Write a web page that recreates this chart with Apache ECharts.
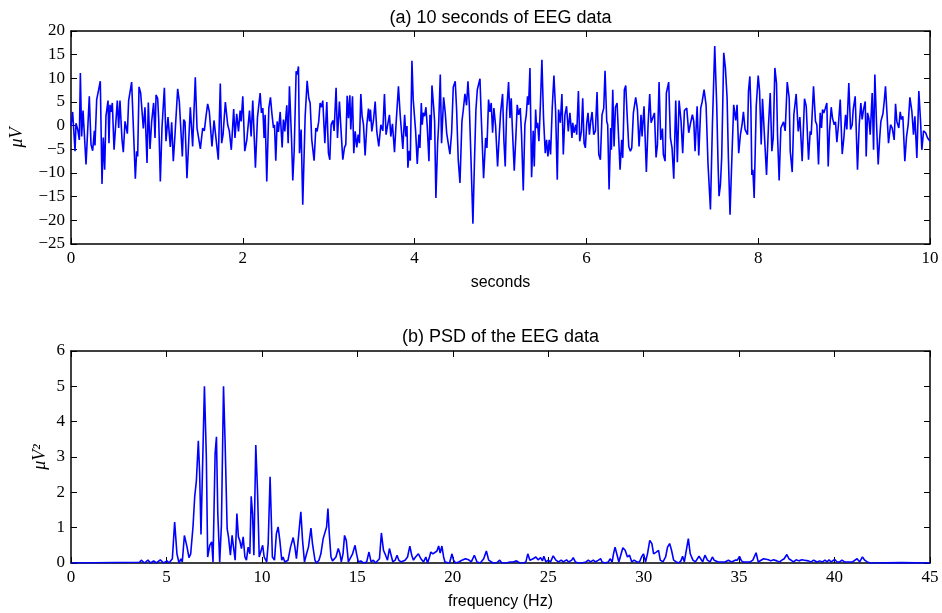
<!DOCTYPE html>
<html><head><meta charset="utf-8">
<script src="https://cdn.jsdelivr.net/npm/echarts@6/dist/echarts.min.js"></script>
<style>html,body{margin:0;padding:0;background:#fff}#c{width:942px;height:613px}</style>
</head><body><div id="c"></div>
<script>
// EEG samples [seconds, µV] (local peaks/troughs)
const eeg0to2 = [[0,-0.1],[0.019,2.9],[0.047,-5.4],[0.058,0.5],[0.078,-0.8],[0.097,-3.0],[0.109,11.1],[0.124,-2.3],[0.140,3.2],[0.175,-8.2],[0.213,6.2],[0.233,-4.0],[0.252,-5.3],[0.272,-1.1],[0.279,-4.2],[0.299,5.5],[0.322,7.6],[0.341,9.4],[0.361,-12.3],[0.376,-2.5],[0.392,-9.3],[0.407,2.0],[0.431,5.3],[0.442,-3.7],[0.454,4.4],[0.466,2.9],[0.481,4.8],[0.501,-5.1],[0.524,-5.4],[0.539,5.3],[0.555,-0.5],[0.570,5.3],[0.594,-3.0],[0.609,-5.6],[0.629,0.9],[0.648,0.6],[0.656,-1.7],[0.671,5.3],[0.706,9.2],[0.749,-11.2],[0.764,-5.4],[0.776,-6.5],[0.792,8.2],[0.811,6.9],[0.842,-0.6],[0.861,3.9],[0.885,-7.9],[0.900,4.9],[0.920,-4.9],[0.939,0.9],[0.962,4.8],[0.978,-2.6],[0.990,6.5],[1.009,5.7],[1.021,1.3],[1.040,-11.8],[1.059,-0.5],[1.087,8.0],[1.106,-3.3],[1.129,1.8],[1.156,-4.5],[1.172,0.7],[1.191,-7.5],[1.211,-1.8],[1.226,2.9],[1.242,7.8],[1.261,5.1],[1.296,-6.5],[1.312,1.3],[1.327,0.8],[1.350,-11.1],[1.389,3.9],[1.416,-4.4],[1.447,10.2],[1.467,-0.5],[1.506,-4.9],[1.533,-0.5],[1.552,-1.1],[1.572,2.0],[1.591,4.6],[1.610,3.0],[1.641,-4.4],[1.665,1.1],[1.715,-7.2],[1.738,8.9],[1.754,-3.7],[1.770,-1.9],[1.797,5.0],[1.824,0.2],[1.843,-1.1],[1.866,-5.1],[1.894,3.5],[1.909,-2.6],[1.929,2.5],[1.950,-1.2],[1.969,3.2],[1.981,0.9]];
const eeg2to4 = [[2.000,6.2],[2.023,-5.4],[2.047,-3.0],[2.078,3.2],[2.097,-2.3],[2.116,5.3],[2.147,-8.9],[2.171,1.8],[2.202,6.9],[2.217,2.7],[2.233,3.7],[2.248,-2.6],[2.260,2.3],[2.279,-11.8],[2.303,3.7],[2.322,6.0],[2.338,2.7],[2.357,-0.5],[2.369,0.2],[2.384,-7.4],[2.400,0.9],[2.415,-1.3],[2.435,2.9],[2.458,-4.6],[2.473,1.3],[2.489,-1.2],[2.512,4.3],[2.528,-3.7],[2.543,8.3],[2.567,-2.6],[2.582,-11.6],[2.598,-5.4],[2.621,11.5],[2.633,10.8],[2.648,12.5],[2.660,-5.8],[2.679,-0.8],[2.698,-16.7],[2.726,2.0],[2.749,9.5],[2.768,5.8],[2.784,4.8],[2.803,-3.0],[2.830,-7.4],[2.850,-0.5],[2.865,-1.2],[2.884,0.9],[2.900,4.8],[2.916,3.9],[2.931,5.3],[2.955,-3.7],[2.978,5.0],[2.997,-5.8],[3.013,-7.2],[3.028,0.2],[3.048,1.1],[3.063,-1.1],[3.086,8.0],[3.102,-2.6],[3.125,5.1],[3.144,-1.1],[3.164,-7.2],[3.184,-4.6],[3.199,-4.0],[3.215,6.3],[3.230,1.6],[3.246,6.4],[3.257,-0.8],[3.277,6.2],[3.292,-5.8],[3.308,-1.2],[3.327,-4.6],[3.343,-1.9],[3.358,-3.7],[3.374,6.7],[3.389,2.0],[3.405,0.2],[3.424,-6.3],[3.444,0.2],[3.463,3.6],[3.475,0.9],[3.486,3.4],[3.502,-1.2],[3.521,1.1],[3.541,5.1],[3.560,-1.2],[3.583,-4.4],[3.607,0.2],[3.630,-1.1],[3.649,6.7],[3.668,-1.9],[3.684,-0.1],[3.707,2.3],[3.723,-2.3],[3.742,0.4],[3.766,-5.6],[3.785,0.6],[3.812,8.3],[3.832,2.3],[3.847,2.3],[3.863,-4.9],[3.884,2.3],[3.899,-2.3],[3.911,-0.1],[3.922,-8.9],[3.938,-5.3],[3.950,-7.4],[3.969,13.7],[3.984,5.5]];
const eeg4to6 = [[4.000,5.1],[4.012,-1.2],[4.031,-8.1],[4.050,-1.9],[4.062,-4.7],[4.078,4.8],[4.089,0.2],[4.101,2.7],[4.116,2.0],[4.132,3.9],[4.147,-0.1],[4.167,-7.5],[4.179,2.3],[4.190,-3.0],[4.202,8.5],[4.221,4.1],[4.233,0.9],[4.248,-15.3],[4.268,-3.7],[4.280,0.2],[4.299,10.8],[4.314,-3.7],[4.338,6.0],[4.357,2.7],[4.373,-1.5],[4.388,-1.3],[4.411,-6.0],[4.431,-1.5],[4.450,8.1],[4.473,9.4],[4.489,3.4],[4.508,-7.2],[4.528,-12.1],[4.551,0.9],[4.566,3.2],[4.586,6.7],[4.605,4.3],[4.621,9.4],[4.636,4.8],[4.656,-6.8],[4.679,-20.7],[4.698,-6.8],[4.714,3.4],[4.730,7.6],[4.745,7.3],[4.761,9.9],[4.776,1.8],[4.803,-11.1],[4.827,-2.6],[4.842,-4.7],[4.861,5.5],[4.877,2.9],[4.892,4.8],[4.908,-1.5],[4.923,3.7],[4.943,-0.1],[4.966,-8.6],[4.986,-1.9],[5.001,2.7],[5.024,6.7],[5.040,-3.3],[5.055,-8.6],[5.071,2.9],[5.094,9.2],[5.110,1.6],[5.125,5.8],[5.137,-0.1],[5.160,-9.5],[5.180,-1.9],[5.195,4.4],[5.211,2.3],[5.230,3.7],[5.245,-1.9],[5.265,-13.7],[5.284,0.2],[5.300,2.3],[5.315,6.2],[5.327,4.4],[5.343,12.2],[5.362,-10.9],[5.381,-1.1],[5.393,-8.6],[5.409,3.4],[5.420,-0.5],[5.432,0.6],[5.447,-3.3],[5.463,3.7],[5.482,13.9],[5.501,1.6],[5.521,-5.8],[5.536,-3.0],[5.552,-6.5],[5.567,-3.0],[5.583,-6.1],[5.602,3.7],[5.622,10.6],[5.641,3.4],[5.661,-11.4],[5.676,3.4],[5.696,0.6],[5.715,6.7],[5.731,-6.1],[5.750,2.3],[5.769,4.1],[5.789,-1.2],[5.808,2.7],[5.832,-2.6],[5.841,0.6],[5.856,-1.5],[5.876,0.2],[5.887,-1.9],[5.907,7.3],[5.922,-3.3],[5.942,-1.2],[5.957,5.8],[5.973,-3.7],[5.988,-4.7]];
const eeg6to8 = [[6.004,0.6],[6.019,2.7],[6.035,-1.9],[6.050,0.9],[6.066,2.9],[6.085,-1.9],[6.105,-1.1],[6.124,7.1],[6.144,-6.1],[6.163,-7.2],[6.182,2.3],[6.202,3.7],[6.217,11.6],[6.237,0.9],[6.248,0.2],[6.264,-13.5],[6.283,-0.5],[6.291,-5.1],[6.307,7.6],[6.322,-4.4],[6.338,3.9],[6.357,4.8],[6.373,5.0],[6.392,-9.3],[6.411,-3.0],[6.423,-6.8],[6.442,7.6],[6.458,8.5],[6.477,1.3],[6.493,-4.4],[6.512,-5.4],[6.528,-4.7],[6.547,2.7],[6.574,6.0],[6.594,3.4],[6.613,-4.4],[6.636,2.3],[6.648,-2.3],[6.671,4.1],[6.698,-9.8],[6.718,0.2],[6.737,6.7],[6.753,0.6],[6.772,0.9],[6.792,2.7],[6.811,-6.7],[6.827,-4.0],[6.846,9.2],[6.865,-3.0],[6.885,-0.6],[6.896,-6.1],[6.916,-7.5],[6.931,6.9],[6.958,9.2],[6.978,-2.6],[6.997,-4.7],[7.017,-11.2],[7.040,5.3],[7.059,-7.7],[7.079,5.3],[7.102,0.9],[7.121,-5.8],[7.141,3.2],[7.168,3.7],[7.191,-1.5],[7.211,0.4],[7.234,2.3],[7.250,0.9],[7.265,-5.4],[7.289,4.1],[7.308,-6.3],[7.331,3.7],[7.347,5.0],[7.370,7.6],[7.393,4.4],[7.416,-8.2],[7.444,-17.7],[7.467,0.2],[7.494,16.8],[7.517,4.4],[7.533,-8.2],[7.544,-14.9],[7.560,-12.5],[7.575,-6.8],[7.599,15.4],[7.618,12.2],[7.638,5.8],[7.653,-6.8],[7.672,-18.8],[7.696,-5.4],[7.715,4.4],[7.738,1.1],[7.754,4.4],[7.773,-5.8],[7.793,-1.9],[7.812,0.2],[7.828,2.9],[7.847,-0.8],[7.866,-1.2],[7.876,-1.9],[7.887,7.3],[7.903,10.4],[7.915,3.7],[7.926,-10.4],[7.938,-9.3],[7.953,-15.3],[7.977,4.1]];
const eeg8to10 = [[8.000,10.6],[8.016,7.3],[8.035,-4.0],[8.050,5.7],[8.066,0.2],[8.081,0.6],[8.097,-10.4],[8.120,0.2],[8.140,6.9],[8.159,-5.4],[8.175,-2.6],[8.194,12.2],[8.213,9.0],[8.225,-1.9],[8.244,-11.6],[8.264,-0.5],[8.279,-0.1],[8.295,0.8],[8.314,-1.1],[8.338,9.2],[8.361,5.8],[8.373,-5.4],[8.396,-9.8],[8.415,2.3],[8.442,6.7],[8.466,-1.2],[8.485,1.8],[8.512,-7.5],[8.539,5.7],[8.559,4.1],[8.586,-7.2],[8.605,-1.2],[8.617,-1.9],[8.644,8.3],[8.667,0.9],[8.683,0.2],[8.702,-8.2],[8.722,2.7],[8.737,-0.5],[8.749,3.4],[8.764,2.7],[8.780,3.6],[8.799,4.8],[8.815,-8.6],[8.830,-1.2],[8.850,3.9],[8.865,1.6],[8.885,0.2],[8.900,0.8],[8.916,-3.5],[8.931,-0.5],[8.955,5.5],[8.978,-6.0],[8.997,-2.6],[9.017,2.3],[9.032,-0.8],[9.055,9.0],[9.075,-0.8],[9.094,0.2],[9.106,3.4],[9.129,6.2],[9.156,-9.3],[9.176,0.2],[9.195,4.8],[9.210,1.3],[9.226,3.4],[9.246,5.1],[9.257,-6.5],[9.273,2.7],[9.288,1.6],[9.304,-1.9],[9.327,6.9],[9.343,-5.1],[9.358,10.8],[9.378,0.2],[9.397,-8.2],[9.413,-3.0],[9.428,0.9],[9.452,2.5],[9.467,5.1],[9.482,8.3],[9.502,1.6],[9.517,-3.7],[9.541,0.2],[9.560,-0.5],[9.583,-3.0],[9.599,4.6],[9.614,0.9],[9.637,-0.5],[9.653,2.9],[9.668,1.3],[9.684,2.0],[9.707,-7.5],[9.727,-2.3],[9.746,0.2],[9.766,6.0],[9.789,3.0],[9.808,-1.9],[9.824,2.0],[9.847,-6.8],[9.870,7.3],[9.890,0.9],[9.905,-5.1],[9.925,-1.1],[9.949,-1.5],[9.972,-2.6],[10.0,-3.3]];

// PSD [Hz, µV²]
const psdLow = [[0,0],[3.59,0.02],[3.68,0.08],[3.85,0],[4.03,0.08],[4.17,0],[4.33,0.06],[4.47,0],[4.68,0.09],[4.85,0],[5.03,0.06],[5.13,0],[5.31,0.12],[5.43,1.16],[5.55,0.26],[5.66,0],[5.76,0.12],[5.83,0.03],[5.94,0.78],[6.08,0.45],[6.18,0.15],[6.27,0.26],[6.39,1.02],[6.48,1.87],[6.57,2.34],[6.67,3.46],[6.74,2.53],[6.81,0.81],[6.88,0.83],[6.99,5.0],[7.09,3.0],[7.16,0.17],[7.27,0.5],[7.37,0.6],[7.44,0.03],[7.55,3.1],[7.62,3.57],[7.69,1.4],[7.79,0.03],[7.88,1.07],[7.99,5.0],[8.07,3.48],[8.18,0.97],[8.25,0.74],[8.35,0.22],[8.44,0.78],[8.49,0.55],[8.60,0.08],[8.69,1.4],[8.77,0.74],[8.84,0.64],[8.93,0.41],[9.02,0.74],[9.11,0.17],[9.19,0.08],[9.28,0.45],[9.37,0.26],[9.44,1.89],[9.51,1.4],[9.58,0.22],[9.68,3.34],[9.77,2.06],[9.86,0.17],[9.96,0.22],[10.04,0.5],[10.12,0.17],[10.25,0.03],[10.33,0.55],[10.43,2.44]];
const psdMid = [[10.55,0.17],[10.66,0.08],[10.76,0.83],[10.85,1.02],[10.94,0.64],[11.04,0.08],[11.11,0.17],[11.20,0.03],[11.29,0],[11.37,0.08],[11.50,0.45],[11.64,0.72],[11.73,0.45],[11.81,0.12],[11.90,0.64],[12.04,1.45],[12.13,0.64],[12.23,0.03],[12.34,0.26],[12.44,0.45],[12.57,0.99],[12.65,0.55],[12.78,0.08],[12.86,0],[12.99,0.08],[13.09,0.26],[13.21,0.69],[13.30,0.69],[13.39,1.02],[13.46,1.54],[13.53,0.83],[13.62,0.17],[13.70,0.06],[13.77,0.08],[13.88,0.17],[14.00,0.41],[14.09,0.26],[14.16,0.03],[14.25,0.26],[14.33,0.78],[14.42,0.64],[14.53,0.03],[14.61,0.08],[14.75,0.26],[14.88,0.5],[14.96,0.26],[15.05,0.03],[15.18,0.06],[15.32,0],[15.49,0.03],[15.61,0.31],[15.72,0.03],[15.84,0.08],[15.95,0],[16.05,0.03],[16.16,0.12],[16.26,0.85],[16.37,0.36],[16.45,0.26],[16.58,0.08],[16.68,0.41],[16.77,0.22],[16.86,0.03],[16.98,0.08],[17.08,0.22],[17.17,0.08],[17.28,0.03],[17.38,0],[17.50,0.08],[17.63,0.17],[17.75,0.48],[17.85,0.22],[17.94,0.08],[18.05,0.17],[18.20,0.26],[18.33,0.12],[18.40,0.17],[18.47,0.03],[18.59,0.17],[18.68,0],[18.78,0.17],[18.85,0.31],[18.96,0.26],[19.06,0.26],[19.17,0.34],[19.26,0.48],[19.34,0.28],[19.43,0.48],[19.52,0.17],[19.59,0.03],[19.69,0],[19.83,0],[19.96,0.26],[20.04,0.08],[20.15,0],[20.31,0.03],[20.48,0.08],[20.66,0.12],[20.83,0.09],[20.97,0.03],[21.13,0.22],[21.27,0.03],[21.44,0],[21.62,0.12],[21.76,0.34],[21.88,0.08],[21.97,0.03]];
const psdHigh = [[22.11,0],[22.29,0],[22.46,0.08],[22.57,0],[22.81,0],[22.99,0.03],[23.16,0.03],[23.34,0.06],[23.51,0],[23.69,0],[23.83,0.03],[23.93,0.26],[24.04,0.08],[24.21,0.12],[24.35,0.17],[24.47,0.09],[24.60,0.15],[24.70,0.06],[24.77,0.19],[24.88,0.03],[25.00,0.08],[25.12,0.03],[25.26,0.2],[25.40,0.08],[25.54,0.03],[25.68,0.08],[25.79,0.03],[25.96,0.09],[26.07,0.03],[26.23,0.08],[26.31,0.15],[26.42,0.03],[26.58,0],[26.75,0],[26.98,0.03],[27.10,0.08],[27.22,0.03],[27.36,0.08],[27.47,0.03],[27.63,0.08],[27.75,0.12],[27.82,0.03],[27.98,0],[28.15,0.03],[28.24,0.12],[28.35,0.03],[28.42,0.26],[28.50,0.45],[28.59,0.26],[28.70,0.03],[28.78,0.08],[28.91,0.43],[29.03,0.36],[29.15,0.17],[29.26,0.22],[29.38,0.03],[29.50,0.08],[29.64,0.03],[29.78,0.03],[29.89,0.17],[29.99,0.26],[30.10,0.03],[30.20,0.26],[30.32,0.64],[30.43,0.55],[30.52,0.26],[30.66,0.31],[30.78,0.36],[30.87,0.08],[31.01,0.03],[31.15,0.17],[31.25,0.45],[31.36,0.55],[31.46,0.36],[31.57,0.08],[31.71,0.03],[31.83,0],[31.95,0.06],[32.04,0.19],[32.13,0.03],[32.23,0.08],[32.34,0.69],[32.44,0.26],[32.58,0.08],[32.71,0.03],[32.79,0.08],[32.90,0.19],[33.09,0.03],[33.21,0.22],[33.34,0.08],[33.48,0.03],[33.60,0.17],[33.69,0.08],[33.79,0.12],[33.91,0.03],[34.09,0.03],[34.26,0.03],[34.44,0.08],[34.61,0.03],[34.79,0.08],[34.91,0.08],[35.02,0.19],[35.12,0.06],[35.23,0.03],[35.40,0.03],[35.58,0.03],[35.72,0.08],[35.81,0.09],[35.89,0.29],[36.00,0.03],[36.10,0.03],[36.28,0.12],[36.38,0.17],[36.54,0.09],[36.66,0.06],[36.80,0.09],[36.98,0.06],[37.12,0.03],[37.24,0.08],[37.36,0.12],[37.50,0.24],[37.61,0.12],[37.71,0.08],[37.85,0.03],[37.99,0.09],[38.13,0.06],[38.29,0.09],[38.42,0.08],[38.52,0.12],[38.63,0.06],[38.77,0.03],[38.91,0.08],[39.08,0.03],[39.22,0.06],[39.36,0.03],[39.50,0.08],[39.61,0.03],[39.71,0.09],[39.82,0.03],[39.92,0.06],[40.01,0.10],[40.13,0.03],[40.27,0.03],[40.39,0.08],[40.52,0.03],[40.66,0.03],[40.80,0.03],[40.94,0.03],[41.04,0.08],[41.18,0.12],[41.32,0.03],[41.46,0.17],[41.58,0.08],[41.71,0.03],[41.88,0],[43.5,0.01],[45,0]];

const topXTicks = {min: 0, max: 10, step: 2};
const topYTicks = {min: -25, max: 20, step: 5};
const botXTicks = {min: 0, max: 45, step: 5};
const botYTicks = {min: 0, max: 6, step: 1};

const titleA = '(a) 10 seconds of EEG data';
const titleB = '(b) PSD of the EEG data';
const xNameA = 'seconds';
const xNameB = 'frequency (Hz)';
const yNameA = 'μV';
const yNameB = 'μV²';

const eegData = [].concat(eeg0to2, eeg2to4, eeg4to6, eeg6to8, eeg8to10);
const psdData = [].concat(psdLow, psdMid, psdHigh);

const SERIF = '"Liberation Serif", "DejaVu Serif", serif';
const SANS = '"Liberation Sans", Arial, sans-serif';
const fmt = v => (v < 0 ? '\u2212' + Math.abs(v) : String(v));

function axis(grid, t, opts) {
  const showLabel = opts.label !== false;
  return Object.assign({
    type: 'value', gridIndex: grid, min: t.min, max: t.max, interval: t.step,
    nameMoveOverlap: false,
    axisLine: {show: true, onZero: false, lineStyle: {color: '#000', width: 1.5}},
    axisTick: {show: true, inside: true, length: 6, lineStyle: {color: '#000', width: 1}},
    axisLabel: {show: showLabel, color: '#000', fontFamily: SERIF, fontSize: 17, margin: 6, formatter: fmt},
    splitLine: {show: false}
  }, opts.extra || {});
}

const chart = echarts.init(document.getElementById('c'), null, {renderer: 'canvas'});
chart.setOption({
  animation: false,
  backgroundColor: '#fff',
  grid: [
    {left: 71, right: 12, top: 31, height: 213},
    {left: 71, right: 12, top: 351, height: 212}
  ],
  xAxis: [
    axis(0, topXTicks, {extra: {position: 'bottom', name: xNameA, nameLocation: 'middle', nameGap: 31,
      nameTextStyle: {fontFamily: SANS, fontSize: 16, color: '#000'}}}),
    axis(0, topXTicks, {label: false, extra: {position: 'top', name: titleA, nameLocation: 'middle', nameGap: 4,
      nameTextStyle: {fontFamily: SANS, fontSize: 18, color: '#000'}}}),
    axis(1, botXTicks, {extra: {position: 'bottom', name: xNameB, nameLocation: 'middle', nameGap: 31,
      nameTextStyle: {fontFamily: SANS, fontSize: 16, color: '#000'}}}),
    axis(1, botXTicks, {label: false, extra: {position: 'top', name: titleB, nameLocation: 'middle', nameGap: 5,
      nameTextStyle: {fontFamily: SANS, fontSize: 18, color: '#000'}}})
  ],
  yAxis: [
    axis(0, topYTicks, {extra: {position: 'left', name: yNameA, nameLocation: 'middle', nameGap: 45,
      nameTextStyle: {fontFamily: SERIF, fontStyle: 'italic', fontSize: 18, color: '#000'}}}),
    axis(0, topYTicks, {label: false, extra: {position: 'right'}}),
    axis(1, botYTicks, {extra: {position: 'left', name: yNameB, nameLocation: 'middle', nameGap: 22,
      nameTextStyle: {fontFamily: SERIF, fontStyle: 'italic', fontSize: 18, color: '#000'}}}),
    axis(1, botYTicks, {label: false, extra: {position: 'right'}})
  ],
  series: [
    {type: 'line', xAxisIndex: 0, yAxisIndex: 0, data: eegData, showSymbol: false, symbol: 'none',
      lineStyle: {color: '#0000ff', width: 1.6}, itemStyle: {color: '#0000ff'}, silent: true, clip: true},
    {type: 'line', xAxisIndex: 2, yAxisIndex: 2, data: psdData, showSymbol: false, symbol: 'none',
      lineStyle: {color: '#0000ff', width: 1.6}, itemStyle: {color: '#0000ff'}, silent: true, clip: true}
  ]
});
</script>
</body></html>
